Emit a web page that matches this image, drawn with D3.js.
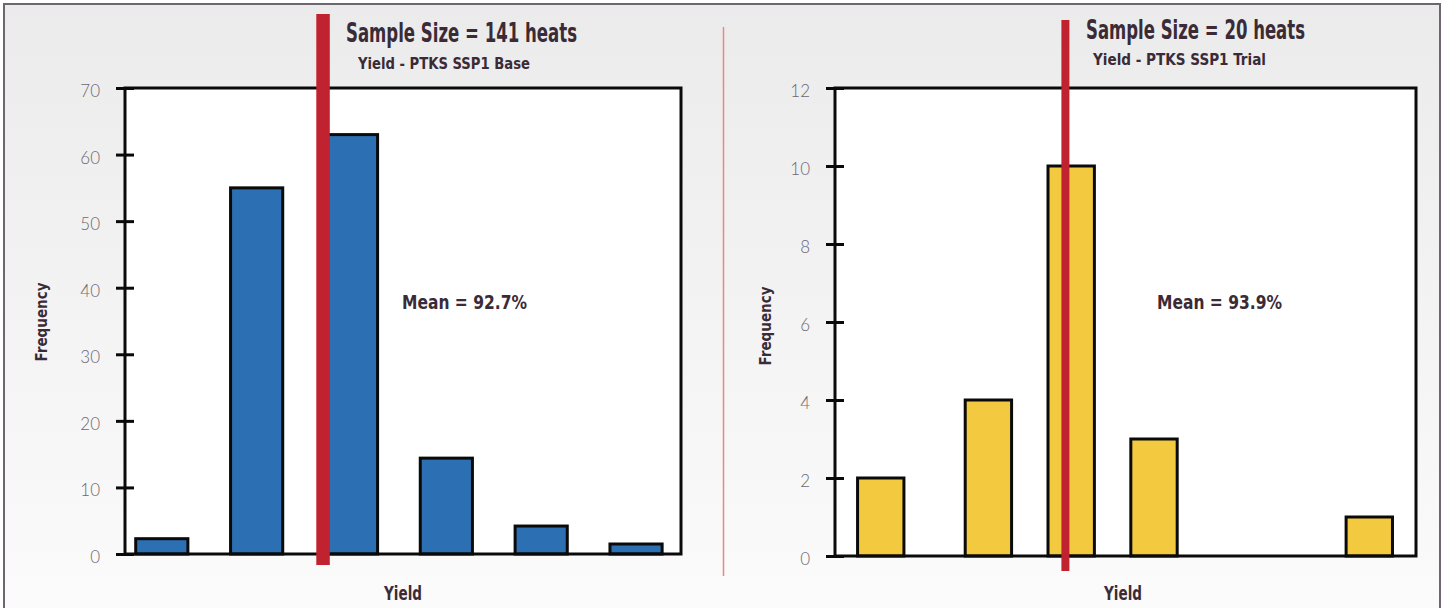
<!DOCTYPE html>
<html>
<head>
<meta charset="utf-8">
<script src="https://cdn.jsdelivr.net/npm/d3@7"></script>
<style>
  html, body { margin: 0; padding: 0; background: #ffffff; }
  svg { display: block; }
  .lbl { font-family: "Liberation Sans Narrow", "DejaVu Sans Condensed", "Roboto", sans-serif; font-weight: bold; fill: #3a2b36; }
  .tick text { font-family: "Lato", "Open Sans", "Roboto", sans-serif; font-weight: 300; fill: #6f676f; font-size: 17px; }
</style>
</head>
<body>
<script>
// ---------- data ----------
const leftTitle = "Sample Size = 141 heats";
const leftSubtitle = "Yield - PTKS SSP1 Base";
const leftMeanLabel = "Mean = 92.7%";
const leftBinPos = [0, 1, 2, 3, 4, 5];          // bin position (bin units)
const leftCounts = [2.3, 55, 63, 14.4, 4.2, 1.5];
const leftMeanPos = 1.70;
const leftTicks = [0, 10, 20, 30, 40, 50, 60, 70];

const rightTitle = "Sample Size = 20 heats";
const rightSubtitle = "Yield - PTKS SSP1 Trial";
const rightMeanLabel = "Mean = 93.9%";
const rightBinPos = [0, 1.3, 2.3, 3.3, 5.9];
const rightCounts = [2, 4, 10, 3, 1];
const rightMeanPos = 2.23;
const rightTicks = [0, 2, 4, 6, 8, 10, 12];

const xLabel = "Yield";
const yLabel = "Frequency";

// ---------- drawing ----------
const W = 1445, H = 608;
const svg = d3.select("body").append("svg").attr("width", W).attr("height", H);

const defs = svg.append("defs");
const grad = defs.append("linearGradient").attr("id", "bg").attr("x1", 0).attr("y1", 0).attr("x2", 0).attr("y2", 1);
grad.append("stop").attr("offset", "0%").attr("stop-color", "#ebebeb");
grad.append("stop").attr("offset", "100%").attr("stop-color", "#fcfcfc");

svg.append("rect").attr("x", 4).attr("y", 4).attr("width", 1436).attr("height", 640)
  .attr("fill", "url(#bg)").attr("stroke", "#6e666e").attr("stroke-width", 2);

// divider
svg.append("line").attr("x1", 723.5).attr("x2", 723.5).attr("y1", 27).attr("y2", 576)
  .attr("stroke", "#e8878b").attr("stroke-width", 1.5);

function panel(cfg) {
  const g = svg.append("g");
  const x = d3.scaleLinear().domain(cfg.xDomain).range([cfg.left, cfg.right]);
  const y = d3.scaleLinear().domain([0, cfg.yMax]).range([cfg.bottom, cfg.top]);

  g.append("rect").attr("x", cfg.left).attr("y", cfg.top)
    .attr("width", cfg.right - cfg.left).attr("height", cfg.bottom - cfg.top)
    .attr("fill", "#ffffff");

  const bw = x(cfg.barW) - x(0);
  g.selectAll("rect.bar").data(cfg.pos.map((p, i) => ({ p, v: cfg.counts[i] })))
    .join("rect").attr("class", "bar")
    .attr("x", d => x(d.p) - bw / 2)
    .attr("y", d => y(d.v))
    .attr("width", bw)
    .attr("height", d => y(0) - y(d.v))
    .attr("fill", cfg.color)
    .attr("stroke", "#0a0a0a").attr("stroke-width", 3);

  g.append("rect").attr("x", cfg.left).attr("y", cfg.top)
    .attr("width", cfg.right - cfg.left).attr("height", cfg.bottom - cfg.top)
    .attr("fill", "none").attr("stroke", "#0a0a0a").attr("stroke-width", 3);

  const ax = g.append("g").attr("transform", `translate(${cfg.left},0)`)
    .call(d3.axisLeft(y).tickValues(cfg.ticks).tickFormat(d3.format("d")).tickSize(0).tickPadding(0));
  ax.select(".domain").remove();
  ax.selectAll(".tick line").attr("x1", -9).attr("x2", 9).attr("stroke", "#0a0a0a").attr("stroke-width", 3);
  ax.selectAll(".tick text").attr("x", -25).attr("dy", "0.32em").attr("y", 3).attr("text-anchor", "end");

  // mean line
  g.append("line").attr("x1", x(cfg.meanPos)).attr("x2", x(cfg.meanPos))
    .attr("y1", cfg.lineTop).attr("y2", cfg.lineBottom)
    .attr("stroke", "#c0222f").attr("stroke-width", cfg.lineW);

  g.append("text").attr("class", "lbl").attr("x", cfg.titleX).attr("y", cfg.titleY)
    .attr("font-size", 26).attr("textLength", cfg.titleLen).attr("lengthAdjust", "spacingAndGlyphs")
    .text(cfg.title);
  g.append("text").attr("class", "lbl").attr("x", cfg.subX).attr("y", cfg.subY)
    .attr("font-size", 16.5).attr("textLength", cfg.subLen).attr("lengthAdjust", "spacingAndGlyphs")
    .text(cfg.subtitle);
  g.append("text").attr("class", "lbl").attr("x", cfg.meanX).attr("y", 309)
    .attr("font-size", 20).attr("textLength", 125).attr("lengthAdjust", "spacingAndGlyphs")
    .text(cfg.meanLabel);
  g.append("text").attr("class", "lbl").attr("x", cfg.xLabX).attr("y", 600)
    .attr("font-size", 20).attr("text-anchor", "middle")
    .attr("textLength", 38).attr("lengthAdjust", "spacingAndGlyphs")
    .text(xLabel);
  g.append("text").attr("class", "lbl")
    .attr("transform", `translate(${cfg.yLabX},${cfg.yLabY}) rotate(-90)`)
    .attr("font-size", 16).attr("text-anchor", "middle")
    .attr("textLength", 79).attr("lengthAdjust", "spacingAndGlyphs")
    .text(yLabel);
}

panel({
  left: 125, right: 681, top: 88, bottom: 554,
  xDomain: [-0.388, 5.474], yMax: 70, ticks: leftTicks,
  pos: leftBinPos, counts: leftCounts, barW: 0.55, color: "#2d6fb3",
  meanPos: leftMeanPos, lineTop: 14, lineBottom: 565, lineW: 13.5,
  title: leftTitle, titleX: 346, titleY: 42, titleLen: 231,
  subtitle: leftSubtitle, subX: 358, subY: 69, subLen: 172,
  meanLabel: leftMeanLabel, meanX: 402,
  xLabX: 403, yLabX: 47, yLabY: 322
});

panel({
  left: 835, right: 1416, top: 88, bottom: 556,
  xDomain: [-0.5525, 6.464], yMax: 12, ticks: rightTicks,
  pos: rightBinPos, counts: rightCounts, barW: 0.56, color: "#f2c93f",
  meanPos: rightMeanPos, lineTop: 20, lineBottom: 571, lineW: 8,
  title: rightTitle, titleX: 1086, titleY: 39, titleLen: 219,
  subtitle: rightSubtitle, subX: 1093, subY: 65, subLen: 173,
  meanLabel: rightMeanLabel, meanX: 1157,
  xLabX: 1123, yLabX: 771, yLabY: 326
});
</script>
</body>
</html>
